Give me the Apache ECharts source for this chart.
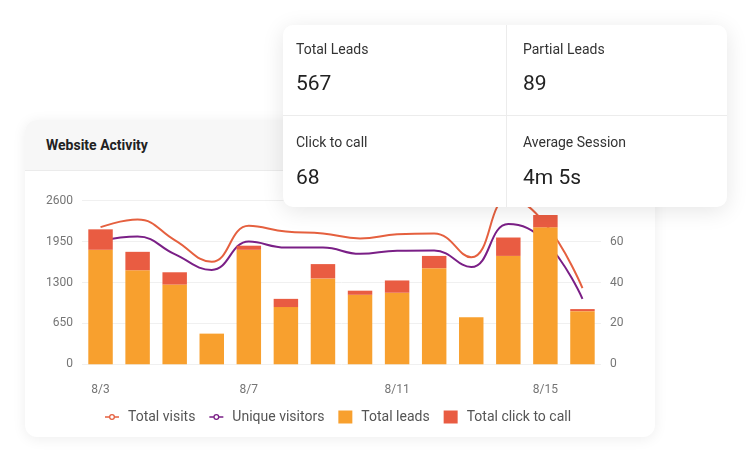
<!DOCTYPE html>
<html>
<head>
<meta charset="utf-8">
<script src="https://cdn.jsdelivr.net/npm/echarts@6/dist/echarts.min.js"></script>
<style>
  html, body { margin: 0; padding: 0; background: #fff; font-family: Roboto, 'Noto Sans', sans-serif; }
  .page { position: relative; width: 752px; height: 464px; overflow: hidden; }
  .activity-card {
    position: absolute; left: 25px; top: 120px; width: 630px; height: 317px;
    background: #fff; border-radius: 12px; overflow: hidden; z-index: 1;
    box-shadow: 0 2px 14px rgba(0,0,0,0.07);
  }
  .activity-head {
    height: 50px; background: #f7f7f7; border-bottom: 1px solid #ebebeb;
    font-size: 14px; font-weight: 700; color: #222; line-height: 50px; padding-left: 21px;
  }
  #chart { position: absolute; left: 0; top: 0; width: 752px; height: 464px; z-index: 2; }
  .stats-card {
    position: absolute; left: 283px; top: 25px; width: 444px; height: 182px;
    background: #fff; border-radius: 10px; z-index: 3;
    box-shadow: 0 4px 22px rgba(0,0,0,0.10);
    display: grid; grid-template-columns: 224px 220px; grid-template-rows: 91px 91px;
  }
  .stat { position: relative; }
  .stat:nth-child(1), .stat:nth-child(3) { border-right: 1px solid #ececec; }
  .stat:nth-child(1), .stat:nth-child(2) { border-bottom: 1px solid #ececec; }
  .stat-label { position: absolute; left: 13px; top: 16px; font-size: 14px; color: #333; }
  .stat-value { position: absolute; left: 13px; top: 46px; font-size: 21px; color: #222; }
  .stat:nth-child(3) .stat-label, .stat:nth-child(4) .stat-label { top: 18px; }
  .stat:nth-child(3) .stat-value, .stat:nth-child(4) .stat-value { top: 49px; }
  .stat:nth-child(2) .stat-label, .stat:nth-child(2) .stat-value,
  .stat:nth-child(4) .stat-label, .stat:nth-child(4) .stat-value { left: 16px; }
</style>
</head>
<body>
<div class="page">
  <div class="activity-card">
    <div class="activity-head">Website Activity</div>
  </div>
  <div id="chart"></div>
  <div class="stats-card" id="stats"></div>
</div>
<script>
const days = ['8/3', '8/4', '8/5', '8/6', '8/7', '8/8', '8/9', '8/10', '8/11', '8/12', '8/13', '8/14', '8/15', '8/16']
const totalVisits = [2180, 2300, 1975, 1630, 2200, 2110, 2080, 2000, 2065, 2080, 1700, 2640, 2230, 1210]
const uniqueVisitors = [1960, 2030, 1750, 1500, 1950, 1855, 1855, 1755, 1805, 1810, 1545, 2230, 1950, 1040]
const totalLeads = [56, 46, 39, 15, 56, 28, 42, 34, 35, 47, 23, 53, 67, 26]
const totalClickToCall = [10, 9, 6, 0, 2, 4, 7, 2, 6, 6, 0, 9, 6, 1]
const leftTicks = [0, 650, 1300, 1950, 2600]
const rightTicks = [0, 20, 40, 60, 80]

const statItems = [
  ['Total Leads', '567'],
  ['Partial Leads', '89'],
  ['Click to call', '68'],
  ['Average Session', '4m 5s'],
]

// little line + ring marker used in the legend for the two line series
const lineLegendIcon = 'path://M0,3.3H4.3V4.7H0Z M9.7,3.3H14V4.7H9.7Z ' +
  'M7,1A3,3 0 1,1 7,7A3,3 0 1,1 7,1Z M7,2.3A1.7,1.7 0 1,0 7,5.7A1.7,1.7 0 1,0 7,2.3Z'

// stat boxes in the floating card
const renderStats = () => {
  const cont = document.getElementById('stats')
  statItems.forEach(([label, value]) => {
    const box = document.createElement('div')
    box.className = 'stat'
    box.innerHTML = `<div class='stat-label'>${label}</div><div class='stat-value'>${value}</div>`
    cont.appendChild(box)
  })
}

const renderActivityChart = () => {
  const axisText = { color: '#757575', fontSize: 12, fontFamily: 'Roboto' }
  var options = {
    animation: false,
    textStyle: { fontFamily: 'Roboto' },
    grid: { left: 82, right: 151, top: 200.7, bottom: 99.7, containLabel: false },
    legend: {
      left: 100,
      top: 405,
      itemWidth: 14,
      itemHeight: 13,
      itemGap: 14,
      textStyle: { color: '#555', fontSize: 14, padding: [0, 0, 0, 4] },
      data: [
        { name: 'Total visits', icon: lineLegendIcon },
        { name: 'Unique visitors', icon: lineLegendIcon },
        { name: 'Total leads', icon: 'rect' },
        { name: 'Total click to call', icon: 'rect' }
      ]
    },
    xAxis: {
      type: 'category',
      data: days,
      axisLine: { show: false },
      axisTick: { show: false },
      axisLabel: { ...axisText, interval: 3, margin: 20 }
    },
    yAxis: [
      {
        type: 'value',
        min: leftTicks[0],
        max: leftTicks[leftTicks.length - 1],
        interval: leftTicks[1] - leftTicks[0],
        axisLabel: { ...axisText, margin: 9, formatter: (v) => String(v) },
        splitLine: { lineStyle: { color: '#f0f0f0' } }
      },
      {
        type: 'value',
        min: rightTicks[0],
        max: rightTicks[rightTicks.length - 1],
        interval: rightTicks[1] - rightTicks[0],
        axisLabel: { ...axisText, margin: 9, formatter: (v) => String(v) },
        splitLine: { show: false }
      }
    ],
    series: [
      {
        name: 'Total visits',
        type: 'line',
        yAxisIndex: 0,
        smooth: 0.45,
        showSymbol: false,
        z: 1,
        itemStyle: { color: '#e5603f' },
        lineStyle: { width: 2, color: '#e5603f' },
        data: totalVisits
      },
      {
        name: 'Unique visitors',
        type: 'line',
        yAxisIndex: 0,
        smooth: 0.45,
        showSymbol: false,
        z: 1,
        itemStyle: { color: '#7a1f86' },
        lineStyle: { width: 2, color: '#7a1f86' },
        data: uniqueVisitors
      },
      {
        name: 'Total leads',
        type: 'bar',
        yAxisIndex: 1,
        stack: 'leads',
        barWidth: '66%',
        z: 3,
        itemStyle: { color: '#f8a02e' },
        data: totalLeads
      },
      {
        name: 'Total click to call',
        type: 'bar',
        yAxisIndex: 1,
        stack: 'leads',
        barWidth: '66%',
        z: 3,
        itemStyle: { color: '#e95c42' },
        data: totalClickToCall
      }
    ]
  };

  var chart = echarts.init(document.getElementById('chart'));
  chart.setOption(options);
}

document.addEventListener('DOMContentLoaded', function () {
  renderStats();
  renderActivityChart();
});
</script>
</body>
</html>
